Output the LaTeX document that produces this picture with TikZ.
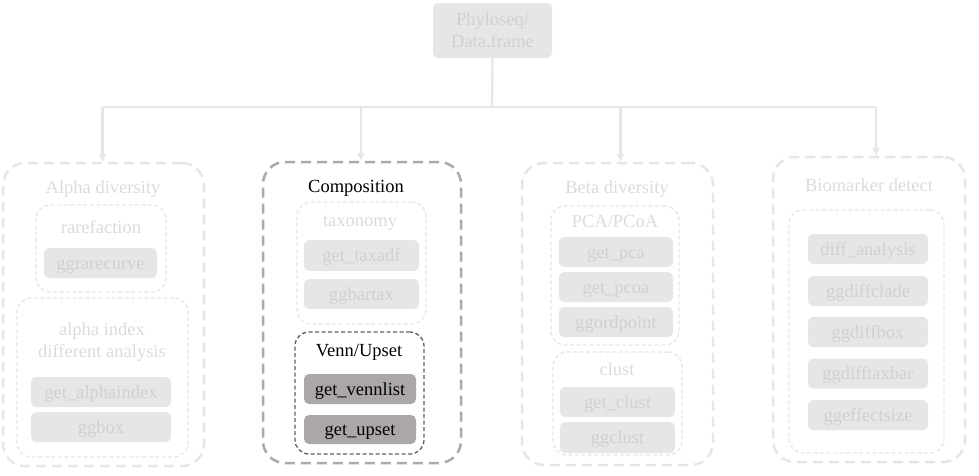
\documentclass[tikz,border=0pt]{standalone}
\usepackage{fontspec}
\setmainfont{Liberation Serif}
\usepackage{tikz}
\usetikzlibrary{arrows.meta,positioning}

\definecolor{lightline}{RGB}{230,230,230}
\definecolor{fadetext}{RGB}{212,207,207}
\definecolor{titletext}{RGB}{222,218,218}
\definecolor{darkfill}{RGB}{171,167,167}
\definecolor{compline}{RGB}{170,170,170}
\definecolor{vennline}{RGB}{95,95,95}

\tikzset{
  outerbox/.style={draw=lightline, line width=2.5pt, dash pattern=on 10pt off 6pt,
    rounded corners=22pt, inner sep=0pt},
  groupbox/.style={draw=lightline, line width=1.3pt, dash pattern=on 4pt off 2.5pt,
    rounded corners=14pt, inner sep=0pt},
  onerow/.style={text height=12.5pt, text depth=0pt},
  lightfunc/.style={fill=lightline, text=fadetext, rounded corners=5pt, inner sep=0pt, onerow},
  darkfunc/.style={fill=darkfill, text=black, rounded corners=5pt, inner sep=0pt, onerow},
  lbl/.style={text=titletext, inner sep=0pt, onerow},
  busline/.style={draw=lightline, line width=2.2pt},
  busarrow/.style={busline, -{Triangle[length=8pt,width=7pt]}}
}

\begin{document}
\begin{tikzpicture}[x=1pt,y=-1pt,font=\fontsize{18.5}{22}\selectfont]
  \useasboundingbox (0,0) rectangle (979,475);

  % root
  \node[fill=lightline, text=fadetext, rounded corners=5pt, inner sep=0pt,
    minimum width=119, minimum height=55, align=center] (phylo) at (492.5,30.5)
    {Phyloseq/\\Data.frame};
  \coordinate (bus) at (492,107);

  % four groups
  \node[outerbox, minimum width=201, minimum height=303] (alpha) at (103.5,314.5) {};
  \node[outerbox, draw=compline, minimum width=198, minimum height=301] (comp) at (362,312.5) {};
  \node[outerbox, minimum width=191, minimum height=302] (beta) at (617.5,314) {};
  \node[outerbox, minimum width=192, minimum height=305] (bio) at (869,309.5) {};

  \coordinate (alphain) at ([xshift=-1pt]alpha.north);
  \coordinate (compin) at ([xshift=-1pt]comp.north);
  \coordinate (betain) at ([xshift=3pt]beta.north);
  \coordinate (bioin) at ([xshift=7pt]bio.north);

  \draw[busline] (phylo.south) -- (bus);
  \draw[busline] (alphain |- bus) -- (bioin |- bus);
  \foreach \g in {alphain,compin,betain,bioin}
    \draw[busarrow] (\g |- bus) -- (\g);

  % alpha diversity
  \node[lbl] (alphatitle) at (103,187) {Alpha diversity};
  \node[groupbox, minimum width=130, minimum height=87] (rare) at (101,248.5) {};
  \node[lbl] (raretitle) at (101,227) {rarefaction};
  \node[lightfunc, minimum width=113, minimum height=30] (rarecurve) at (100.5,263) {ggrarecurve};
  \node[groupbox, minimum width=171, minimum height=159] (aindex) at (102.5,377.5) {};
  \node[text=titletext, inner sep=0pt, align=center] (aindextitle) at (102,342) {alpha index\\different analysis};
  \node[lightfunc, minimum width=140, minimum height=30] (getalpha) at (101,392) {get\_alphaindex};
  \node[lightfunc, minimum width=140, minimum height=30] (ggbox) at (101,427) {ggbox};

  % composition
  \node[inner sep=0pt, onerow] (comptitle) at (356,186) {Composition};
  \node[groupbox, minimum width=129, minimum height=122] (taxo) at (361.5,263) {};
  \node[lbl] (taxotitle) at (360,220) {taxonomy};
  \node[lightfunc, minimum width=115, minimum height=31] (taxadf) at (361.5,255.5) {get\_taxadf};
  \node[lightfunc, minimum width=115, minimum height=30] (bartax) at (361.5,294) {ggbartax};
  \node[groupbox, draw=vennline, minimum width=129, minimum height=122] (venn) at (359.5,393) {};
  \node[inner sep=0pt, onerow] (venntitle) at (359,350) {Venn/Upset};
  \node[darkfunc, minimum width=112, minimum height=30] (vennlist) at (360,389) {get\_vennlist};
  \node[darkfunc, minimum width=112, minimum height=29] (upset) at (360,429.5) {get\_upset};

  % beta diversity
  \node[lbl] (betatitle) at (617,187) {Beta diversity};
  \node[groupbox, minimum width=128, minimum height=139] (pca) at (615,275.5) {};
  \node[lbl] (pcatitle) at (615,221) {PCA/PCoA};
  \foreach \y/\t/\n in {252/get\_pca/getpca, 287/get\_pcoa/getpcoa, 322/ggordpoint/ordpoint}
    \node[lightfunc, minimum width=114, minimum height=30] (\n) at (616,\y) {\t};
  \node[groupbox, minimum width=129, minimum height=103] (clust) at (617.5,403.5) {};
  \node[lbl] (clusttitle) at (617,369) {clust};
  \node[lightfunc, minimum width=115, minimum height=30] (getclust) at (617.5,402) {get\_clust};
  \node[lightfunc, minimum width=115, minimum height=31] (ggclust) at (617.5,437.5) {ggclust};

  % biomarker detect
  \node[lbl] (biotitle) at (869,185) {Biomarker detect};
  \node[groupbox, minimum width=155, minimum height=243] (diff) at (866.5,331.5) {};
  \foreach \y/\t/\n in {249/diff\_analysis/diffan, 291/ggdiffclade/diffclade,
      332/ggdiffbox/diffbox, 373.5/ggdifftaxbar/difftaxbar, 415/ggeffectsize/effsize}
    \node[lightfunc, minimum width=120, minimum height=30] (\n) at (868,\y) {\t};
\end{tikzpicture}
\end{document}
